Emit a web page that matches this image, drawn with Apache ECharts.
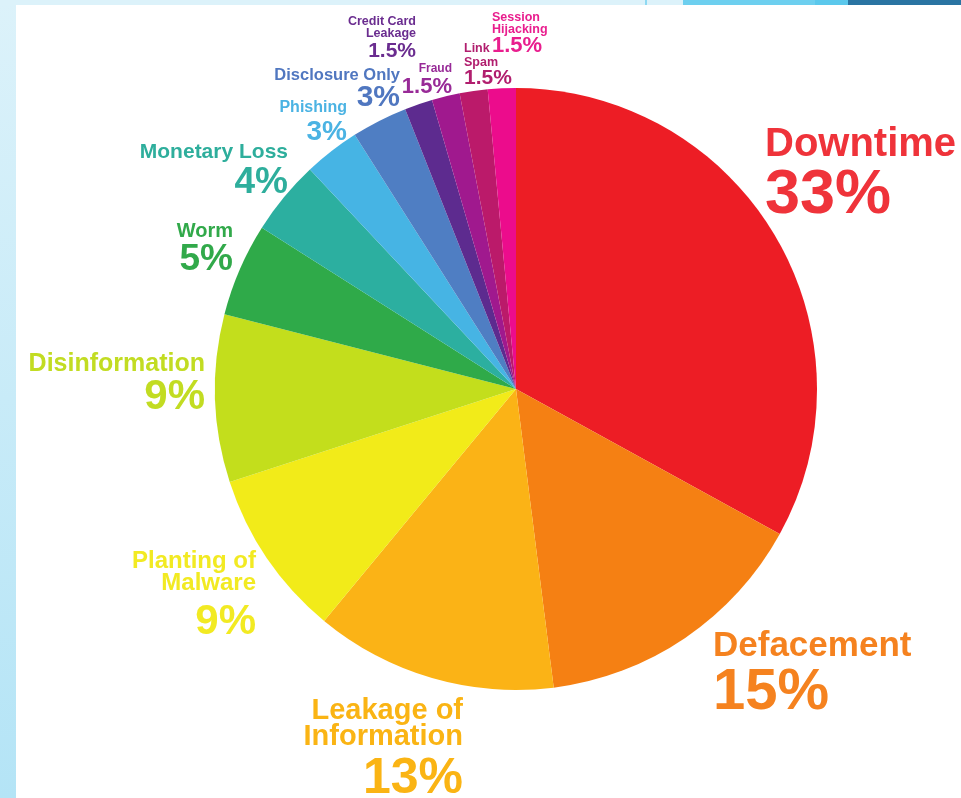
<!DOCTYPE html>
<html>
<head>
<meta charset="utf-8">
<script src="https://cdn.jsdelivr.net/npm/echarts@6/dist/echarts.min.js"></script>
<style>
  html, body { margin: 0; padding: 0; background: #fff; }
  #chart { width: 961px; height: 798px; }
</style>
</head>
<body>
<div id="chart"></div>
<script>
// 攻击后果占比饼图
const categories = [
  'Downtime', 'Defacement', 'Leakage of\nInformation', 'Planting of\nMalware',
  'Disinformation', 'Worm', 'Monetary Loss', 'Phishing', 'Disclosure Only',
  'Credit Card\nLeakage', 'Fraud', 'Link\nSpam', 'Session\nHijacking'
]
const values = [33, 15, 13, 9, 9, 5, 4, 3, 3, 1.5, 1.5, 1.5, 1.5]

const sliceColors = [
  '#ED1D25', '#F58013', '#FBB316', '#F2EB19', '#C3DE1C', '#2FAA49', '#2CAFA0',
  '#46B4E4', '#4F7EC3', '#5D2B8F', '#A0198E', '#BB1A6A', '#EC0C8C'
]
const textColors = [
  '#EF333A', '#F5821F', '#FAB414', '#F2EA22', '#C2DC22', '#31A94A', '#2EAE9C',
  '#4BB3E3', '#5077C0', '#6A2C8F', '#982A97', '#B11E6E', '#E91E8E'
]

// 标签位置: [x, align, 名称大写字母顶部y, 行距, 百分比顶部y, 名称字号, 百分比字号]
const labelSpec = [
  [765, 'left', 126, 40, 165, 40, 63],
  [713, 'left', 630, 35, 665, 35, 58],
  [463, 'right', 697, 26, 755, 29, 50],
  [256, 'right', 550, 22, 602, 24, 42],
  [205, 'right', 352, 25, 377, 25, 42],
  [233, 'right', 222, 20, 242, 20, 37],
  [288, 'right', 142, 21, 165, 21, 37],
  [347, 'right', 100, 16, 119, 16, 28],
  [400, 'right', 68, 16, 83, 16.5, 30],
  [416, 'right', 16, 12, 41, 12.5, 21],
  [452, 'right', 63, 12, 76, 12, 22],
  [464, 'left', 43, 14, 68, 12.5, 21],
  [492, 'left', 12, 11.5, 35, 12.5, 22]
]

const FONT = '"Liberation Sans", Arial, sans-serif'
const CAP_K = 0.48 // 行中心到大写字母顶部的距离 / 字号

// 根据大写字母顶部位置换算文本框顶部和行高
function layoutOf(i) {
  const [x, align, nameCap, gap, pctCap, fsN, fsP] = labelSpec[i]
  const lines = categories[i].split('\n').length
  const top = nameCap - (gap / 2 - CAP_K * fsN)
  const pctCenter = pctCap + CAP_K * fsP
  const lhP = Math.max(2 * (pctCenter - (top + lines * gap)), 4)
  return { x, align, top, gap, lhP, fsN, fsP }
}

const chart = echarts.init(document.getElementById('chart'))

const data = values.map((v, i) => {
  const l = layoutOf(i)
  return {
    name: categories[i],
    value: v,
    itemStyle: { color: sliceColors[i] },
    label: {
      color: textColors[i],
      formatter: `{n|${categories[i]}}\n{p|${v}%}`,
      rich: {
        n: { color: textColors[i], fontFamily: FONT, fontWeight: 'bold', fontSize: l.fsN, lineHeight: l.gap, align: l.align },
        p: { color: textColors[i], fontFamily: FONT, fontWeight: 'bold', fontSize: l.fsP, lineHeight: l.lhP, align: l.align }
      }
    }
  }
})

const option = {
  animation: false,
  backgroundColor: '#fff',
  graphic: [
    {
      type: 'rect', left: 0, top: 0, z: -10, silent: true,
      shape: { width: 16, height: 798 },
      style: {
        fill: new echarts.graphic.LinearGradient(0, 0, 0, 1, [
          { offset: 0, color: '#DCF2FA' }, { offset: 1, color: '#B4E4F6' }
        ])
      }
    },
    { type: 'rect', left: 0, top: 0, z: -10, silent: true, shape: { width: 961, height: 5 }, style: { fill: '#DCF2FA' } },
    { type: 'rect', left: 645, top: 0, z: -9, silent: true, shape: { width: 2, height: 5 }, style: { fill: '#8ED9F2' } },
    { type: 'rect', left: 683, top: 0, z: -9, silent: true, shape: { width: 132, height: 5 }, style: { fill: '#6DCFEF' } },
    { type: 'rect', left: 815, top: 0, z: -9, silent: true, shape: { width: 33, height: 5 }, style: { fill: '#5BC8EC' } },
    { type: 'rect', left: 848, top: 0, z: -9, silent: true, shape: { width: 113, height: 5 }, style: { fill: '#2A74A2' } }
  ],
  series: [{
    type: 'pie',
    center: [516, 389],
    radius: 301,
    startAngle: 90,
    clockwise: true,
    avoidLabelOverlap: false,
    silent: true,
    emphasis: { disabled: true },
    itemStyle: { borderWidth: 0 },
    label: { show: true, position: 'outside' },
    labelLine: { show: false },
    labelLayout: (params) => {
      const l = layoutOf(params.dataIndex)
      return { x: l.x, y: l.top, align: l.align, verticalAlign: 'top', hideOverlap: false }
    },
    data
  }]
}

chart.setOption(option)
</script>
</body>
</html>
